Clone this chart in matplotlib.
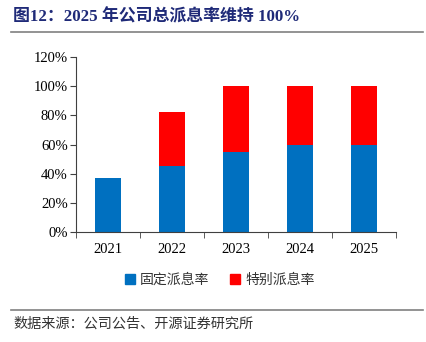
import numpy as np
import matplotlib.pyplot as plt
from matplotlib.lines import Line2D
from matplotlib.patches import Patch

plt.rcParams['font.family'] = ['Liberation Serif', 'Noto Sans CJK SC', 'DejaVu Sans']

years = ['2021', '2022', '2023', '2024', '2025']
fixed_rate = [37, 45, 55, 60, 60]
special_rate = [0, 37, 45, 40, 40]
yticks = [0, 20, 40, 60, 80, 100, 120]

blue = '#0070C0'
red = '#FF0000'

fig = plt.figure(figsize=(4.27, 3.42), dpi=100)
ax = fig.add_axes([76 / 427, 1 - 232 / 342, 320 / 427, 175 / 342])

x = np.arange(len(years))
ax.bar(x, fixed_rate, width=0.4, color=blue, label='固定派息率')
ax.bar(x, special_rate, width=0.4, bottom=fixed_rate, color=red, label='特别派息率')

ax.set_xlim(-0.5, len(years) - 0.5)
ax.set_ylim(0, 120)
ax.set_yticks(yticks)
ax.set_yticklabels([f'{v}%' for v in yticks], fontsize=10.5)
ax.set_xticks(x)
ax.set_xticklabels(years, fontsize=10.5)
ax.tick_params(axis='x', length=0, pad=8)
ax.set_xticks(np.arange(-0.5, len(years)), minor=True)
ax.tick_params(axis='x', which='minor', length=4, color='#404040')
ax.tick_params(axis='y', length=4, color='#404040', pad=2)
for side in ['top', 'right']:
    ax.spines[side].set_visible(False)
for side in ['left', 'bottom']:
    ax.spines[side].set_color('#404040')

# legend below the axis
handles = [Patch(color=blue), Patch(color=red)]
fig.legend(handles, ['固定派息率', '特别派息率'], loc='center', bbox_to_anchor=(220 / 427, 1 - 280 / 342),
           ncol=2, frameon=False, handlelength=0.7, handleheight=0.7, handletextpad=0.4, columnspacing=1.5,
           labelcolor='#333333', prop={'family': ['Noto Sans CJK SC'], 'size': 10})

fig.text(13 / 427, 1 - 17 / 342, '图12：2025 年公司总派息率维持 100%', fontsize=12.2, fontweight='bold',
         color='#1F2A78', va='center', ha='left', family=['Liberation Serif', 'Noto Sans CJK SC'])
fig.add_artist(Line2D([11 / 427, 423 / 427], [1 - 32 / 342] * 2, color='#808080', lw=1.2))
fig.add_artist(Line2D([11 / 427, 423 / 427], [1 - 310 / 342] * 2, color='#808080', lw=1.2))
fig.text(13 / 427, 1 - 324 / 342, '数据来源：公司公告、开源证券研究所', fontsize=10.2, color='#333333',
         va='center', ha='left', family=['Noto Sans CJK SC'])

fig.savefig('out.png', dpi=100)
